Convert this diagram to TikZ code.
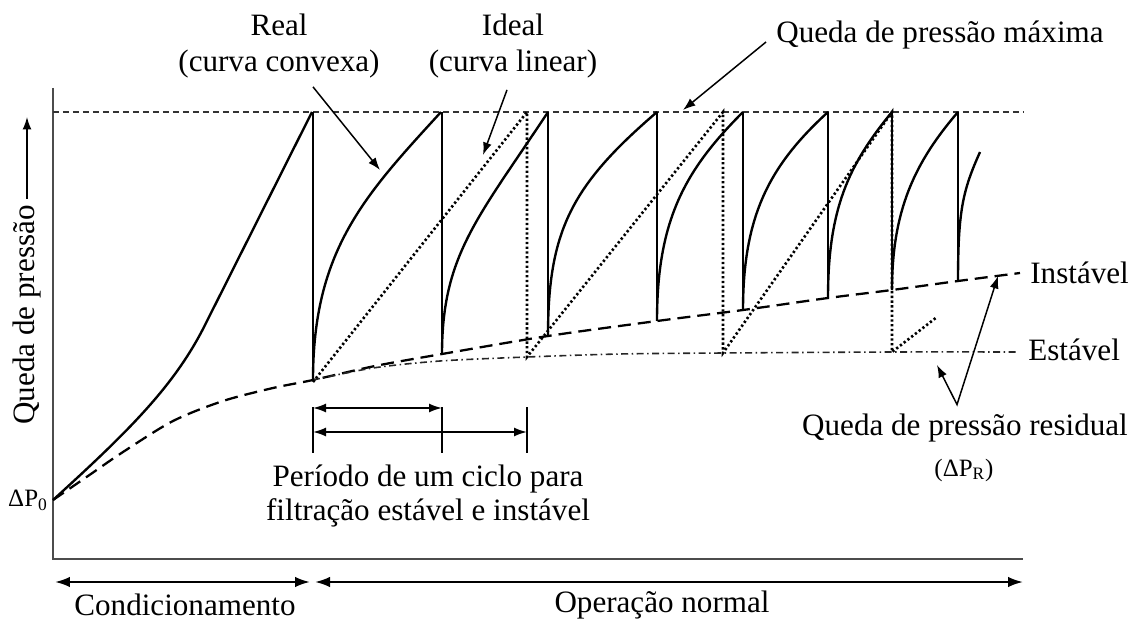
\documentclass[tikz,border=0pt]{standalone}
\usepackage{fontspec}
\setmainfont{Liberation Serif}
\usetikzlibrary{arrows.meta,calc}

\begin{document}
\begin{tikzpicture}[x=0.02cm,y=-0.02cm,>={Latex[length=0.25cm,width=0.18cm]},
                    lbl/.style={font=\fontsize{17.7}{21}\selectfont,inner sep=0pt},
                    smalllbl/.style={font=\fontsize{14.2}{16}\selectfont,inner sep=0pt},
                    axisline/.style={draw=black!70,line width=1.2pt},
                    maxline/.style={draw=black!80,line width=1pt,dash pattern=on 0.12cm off 0.08cm},
                    instline/.style={line width=1.3pt,dash pattern=on 0.26cm off 0.14cm},
                    estline/.style={draw=black!85,line width=0.9pt,dash pattern=on 0.14cm off 0.07cm on 0.03cm off 0.07cm},
                    idealline/.style={line width=1.5pt,dash pattern=on 1.3pt off 1.4pt},
                    realcurve/.style={line width=1.35pt},
                    cyclevert/.style={line width=0.9pt},
                    callout/.style={->,line width=0.85pt},
                    spanarrow/.style={<->,line width=1.2pt,>={Latex[length=0.3cm,width=0.21cm]}}]

  \useasboundingbox (0,0) rectangle (1141,621);

  % labels
  \node[lbl,align=center]                 (real)   at (279,46)  {Real\\(curva convexa)};
  \node[lbl,align=center]                 (ideal)  at (513,46)  {Ideal\\(curva linear)};
  \node[lbl]                              (maxlbl) at (940,35)  {Queda de pressão máxima};
  \node[lbl,rotate=90]                    (ylab)   at (27,315)  {Queda de pressão};
  \node[smalllbl]                         (dp0)    at (28,500)  {ΔP\textsubscript{0}};
  \node[lbl,anchor=west]                  (inst)   at (1030,273) {Instável};
  \node[lbl,anchor=west]                  (est)    at (1028,350) {Estável};
  \node[lbl]                              (resid)  at (965,428) {Queda de pressão residual};
  \node[smalllbl]                         (residr) at (964,470) {(ΔP\textsubscript{R})};
  \node[lbl,align=center,font=\fontsize{17.7}{19.4}\selectfont]
                                          (period) at (428,496) {Período de um ciclo para\\filtração estável e instável};
  \node[lbl]                              (cond)   at (185,605) {Condicionamento};
  \node[lbl]                              (oper)   at (662,605) {Operação normal};

  % axes
  \draw[axisline] (53,88) -- (53,559) -- (1023,559);
  \coordinate (ytip) at (27,117);
  \draw[callout] ($(ylab.east)+(0,-6)$) -- (ytip);

  % max pressure drop
  \draw[maxline] (53,112) -- (1023,112);

  % unstable and stable residual lines
  \draw[instline] plot[smooth] coordinates {(53,500) (88,476) (123,452) (173,421) (223,401) (273,388)
      (313,380) (375,366) (442,354) (548,336) (657,321) (743,310) (828,298) (892,290) (958,281) (1020,273)};
  \draw[estline] plot[smooth] coordinates {(313,380) (373,368) (440,361) (527,357) (620,354) (723,353)
      (892,352) (1018,352)};

  % conditioning
  \draw[realcurve] (53,500) .. controls (130,430) and (175,385) .. (205,325) -- (312,112);

  % real cycles
  \draw[cyclevert] (313,112) -- (313,380);
  \draw[cyclevert] (442,112) -- (442,354);
  \draw[cyclevert] (548,112) -- (548,336);
  \draw[cyclevert] (657,112) -- (657,321);
  \draw[cyclevert] (743,112) -- (743,310);
  \draw[cyclevert] (828,112) -- (828,298);
  \draw[cyclevert] (892,112) -- (892,290);
  \draw[cyclevert] (958,112) -- (958,281);

  \draw[realcurve] (313,380) .. controls (313,250) and (365,195) .. (441,112);
  \draw[realcurve] (442,354) .. controls (442,255) and (478,218) .. (548,112);
  \draw[realcurve] (548,336) .. controls (548,230) and (572,185) .. (657,112);
  \draw[realcurve] (657,321) .. controls (657,220) and (685,170) .. (743,112);
  \draw[realcurve] (743,310) .. controls (743,215) and (770,165) .. (828,112);
  \draw[realcurve] (828,298) .. controls (828,210) and (848,165) .. (892,112);
  \draw[realcurve] (892,290) .. controls (892,210) and (915,162) .. (958,112);
  \draw[realcurve] (958,281) .. controls (958,210) and (963,190) .. (980,152);

  % ideal cycles
  \draw[idealline] (313,382) -- (527,112) -- (527,357) -- (723,112) -- (723,353)
      -- (892,112) -- (892,352) -- (937,317);

  % callouts
  \coordinate (realtip)  at (380,170);
  \coordinate (idealtip) at (483,155);
  \coordinate (maxtip)   at (683,110);
  \coordinate (esttip)   at (937,365);
  \coordinate (insttip)  at (998,276);
  \draw[callout] ($(real.south)+(34,8)$) -- (realtip);
  \draw[callout] ($(ideal.south)+(-6,11)$) -- (idealtip);
  \draw[callout] ($(maxlbl.west)+(-10,7)$) -- (maxtip);
  \draw[callout,<->] (esttip) -- ($(resid.north)+(-8,-9)$) -- (insttip);

  % cycle periods
  \coordinate (p0) at (313,407);
  \coordinate (p1) at (442,407);
  \coordinate (p2) at (527,407);
  \draw[line width=0.9pt] (p0) -- ++(0,46);
  \draw[line width=0.9pt] (p1) -- ++(0,46);
  \draw[line width=0.9pt] (p2) -- ++(0,46);
  \draw[spanarrow,line width=1pt,>={Latex[length=0.26cm,width=0.18cm]}] ($(p0)+(0,1)$) -- ($(p1)+(0,1)$);
  \draw[spanarrow,line width=1pt,>={Latex[length=0.26cm,width=0.18cm]}] ($(p0)+(0,25)$) -- ($(p2)+(0,25)$);

  % phases
  \coordinate (c0) at (55,582);
  \coordinate (c1) at (310,582);
  \coordinate (o0) at (315,582);
  \coordinate (o1) at (1023,582);
  \draw[spanarrow] (c0) -- (c1);
  \draw[spanarrow] (o0) -- (o1);

\end{tikzpicture}
\end{document}
